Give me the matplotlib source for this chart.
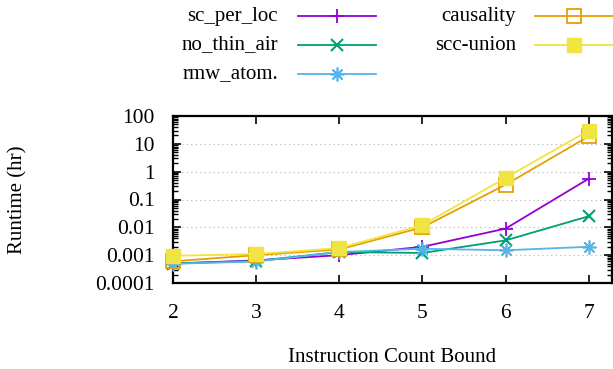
import matplotlib
matplotlib.use("Agg")
import matplotlib.pyplot as plt
from matplotlib.lines import Line2D
from matplotlib.ticker import FixedLocator, FixedFormatter, LogLocator, NullFormatter

plt.rcParams['font.family'] = ['Liberation Serif', 'DejaVu Serif']

x = [2, 3, 4, 5, 6, 7]
sc_per_loc = [0.0005, 0.00065, 0.001, 0.002, 0.009, 0.56]
no_thin_air = [0.0005, 0.00062, 0.0013, 0.0012, 0.0034, 0.025]
rmw_atom = [0.00049, 0.00059, 0.0013, 0.0017, 0.0015, 0.002]
causality = [0.0006, 0.001, 0.0016, 0.01, 0.34, 18.6]
scc_union = [0.00095, 0.0011, 0.0018, 0.012, 0.6, 30]

series_names = ["sc_per_loc", "no_thin_air", "rmw_atom.", "causality", "scc-union"]
series_vals = [sc_per_loc, no_thin_air, rmw_atom, causality, scc_union]
colors = ["#9400d3", "#009e73", "#56b4e9", "#e69f00", "#f0e442"]
markers = ["+", "x", (8, 2, 0), "s", "s"]
fills = ["full", "full", "full", "none", "full"]
msizes = [10, 9, 10, 9.5, 9.5]
mews = [1.3, 1.5, 1.2, 1.3, 1.0]

yticks = [1e2, 1e1, 1, 1e-1, 1e-2, 1e-3, 1e-4]
ytick_labels = ["100", "10", "1", "0.1", "0.01", "0.001", "0.0001"]

fig = plt.figure(figsize=(6.13, 3.69), dpi=100)
W, H = 613, 369
ax = fig.add_axes([173 / W, 1 - 283 / H, (612 - 173) / W, (283 - 116) / H])

for name, vals, c, m, fs, ms, mew in zip(series_names, series_vals, colors, markers, fills, msizes, mews):
    ax.plot(x, vals, color=c, marker=m, fillstyle=fs, markersize=ms, markeredgewidth=mew,
            linewidth=1.3, clip_on=False, zorder=3)

ax.set_yscale('log')
ax.set_ylim(1e-4, 1e2)
ax.set_xlim(2, 7.28)
ax.yaxis.set_major_locator(FixedLocator(yticks))
ax.yaxis.set_major_formatter(FixedFormatter(ytick_labels))
ax.yaxis.set_minor_locator(LogLocator(base=10, subs=range(2, 10), numticks=20))
ax.yaxis.set_minor_formatter(NullFormatter())
ax.set_xticks(x)
ax.set_xticklabels([str(v) for v in x])

ax.tick_params(axis='both', which='major', direction='in', length=6, width=1.2,
               top=True, right=True, labelsize=15.5)
ax.tick_params(axis='y', which='major', pad=13)
ax.tick_params(axis='x', which='major', pad=15)
ax.tick_params(axis='y', which='minor', direction='in', length=3.5, width=1.0, right=True)
ax.tick_params(axis='x', which='minor', bottom=False, top=False)

for sp in ax.spines.values():
    sp.set_linewidth(1.6)

ax.yaxis.grid(True, which='major', linestyle=(0, (1, 3)), color='#b0b0b0', linewidth=0.8)
ax.set_axisbelow(True)

ax.set_xlabel("Instruction Count Bound", fontsize=15, labelpad=18)
fig.text(18 / W, 1 - 200 / H, "Runtime (hr)", rotation=90, ha='center', va='center', fontsize=15)

# Legend (gnuplot style: right-aligned labels, sample to the right)
leg_pos = [
    (278, 298, 376, 16),
    (278, 298, 376, 45),
    (278, 298, 376, 74),
    (516, 535, 625, 16),
    (516, 535, 625, 45),
]
for (tx, lx0, lx1, ly), name, c, m, fs, ms, mew in zip(leg_pos, series_names, colors, markers, fills, msizes, mews):
    fig.text(tx / W, 1 - ly / H, name, ha='right', va='center', fontsize=15)
    fig.add_artist(Line2D([lx0 / W, lx1 / W], [1 - ly / H, 1 - ly / H], color=c, linewidth=1.3,
                          transform=fig.transFigure))
    mx = (lx0 + 39) if lx1 < 600 else 574
    fig.add_artist(Line2D([mx / W], [1 - ly / H], color=c, marker=m, fillstyle=fs, markersize=ms,
                          markeredgewidth=mew, linestyle='none', transform=fig.transFigure))

fig.savefig("out.png", dpi=100)
